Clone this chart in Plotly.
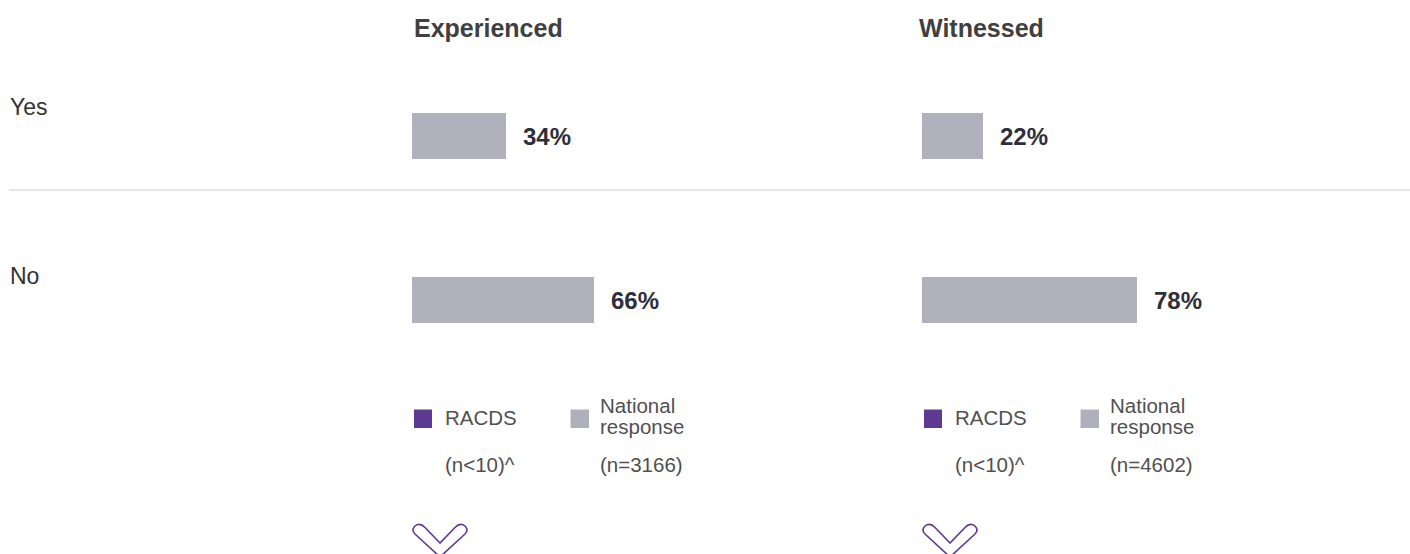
import plotly.graph_objects as go

# Survey answers and national response shares (%)
answers = ["Yes", "No"]
experienced_pct = [34, 66]
witnessed_pct = [22, 78]
panel_titles = ["Experienced", "Witnessed"]
racds_n = ["(n<10)^", "(n<10)^"]
national_n = ["(n=3166)", "(n=4602)"]

W, H = 1410, 554
FONT = "Liberation Sans, Arial, Helvetica, sans-serif"
BAR_COLOR = "#b1b1bd"
PURPLE = "#5c3a92"


def px(x):
    return x / W


def py(y):
    return 1 - y / H


panel_left = [412, 922]
title_left = [412, 917]
scale_px = 276  # pixels per 100 %

fig = go.Figure()
for i, vals in enumerate([experienced_pct, witnessed_pct]):
    xa = "x" if i == 0 else "x2"
    fig.add_trace(go.Bar(
        y=answers, x=vals, orientation="h", xaxis=xa, yaxis="y",
        marker=dict(color=BAR_COLOR, line=dict(width=0)),
        width=0.2805, hoverinfo="skip", showlegend=False,
    ))

annotations = []
shapes = []

# value labels next to each bar
for i, vals in enumerate([experienced_pct, witnessed_pct]):
    xref = "x" if i == 0 else "x2"
    for ans, v in zip(answers, vals):
        annotations.append(dict(
            x=v, y=ans, xref=xref, yref="y", xanchor="left", yanchor="middle",
            xshift=15, text=f"<b>{v}%</b>", showarrow=False,
            font=dict(family=FONT, size=24, color="#2f2f3a"),
        ))

# row labels
for ans, cy in zip(answers, [106.5, 275.5]):
    annotations.append(dict(
        x=px(8), y=py(cy), xref="paper", yref="paper", xanchor="left", yanchor="middle",
        text=ans, showarrow=False, font=dict(family=FONT, size=23, color="#333333"),
    ))

# separator between rows
shapes.append(dict(type="line", xref="paper", yref="paper",
                   x0=px(9), x1=1, y0=py(190), y1=py(190),
                   line=dict(color="#dcdcdc", width=1.3)))

for i, L in enumerate(panel_left):
    # panel title
    annotations.append(dict(
        x=px(title_left[i]), y=py(28), xref="paper", yref="paper", xanchor="left", yanchor="middle",
        text=f"<b>{panel_titles[i]}</b>", showarrow=False,
        font=dict(family=FONT, size=25, color="#404040"),
    ))
    # legend keys
    shapes.append(dict(type="rect", xref="paper", yref="paper",
                       x0=px(L + 2), x1=px(L + 20), y0=py(428), y1=py(409.5),
                       fillcolor=PURPLE, line=dict(width=0)))
    shapes.append(dict(type="rect", xref="paper", yref="paper",
                       x0=px(L + 158.5), x1=px(L + 177), y0=py(428), y1=py(409.5),
                       fillcolor="#b0b0bc", line=dict(width=0)))
    legend_font = dict(family=FONT, size=20.5, color="#505050")
    for txt, lx, cy in [("RACDS", L + 31, 417), (racds_n[i], L + 31, 464.5),
                        ("National", L + 186, 405.5), ("response", L + 186, 426.5),
                        (national_n[i], L + 186, 464.5)]:
        annotations.append(dict(
            x=px(lx), y=py(cy), xref="paper", yref="paper", xanchor="left",
            yanchor="middle", text=txt, showarrow=False, font=legend_font,
        ))
    # chevron outline below each panel
    pts = [
        ("M", L + 28, 543), ("L", L + 13, 527.5),
        ("Q", L + 8, 522, L + 3, 526), ("Q", L - 1, 530, L + 3, 534),
        ("L", L + 28, 557), ("L", L + 53, 534),
        ("Q", L + 57, 530, L + 53, 526), ("Q", L + 48, 522, L + 43, 527.5),
    ]
    path = ""
    for p in pts:
        cmd, coords = p[0], p[1:]
        xy = [f"{px(coords[k]):.6f},{py(coords[k + 1]):.6f}" for k in range(0, len(coords), 2)]
        path += cmd + " " + " ".join(xy) + " "
    path += "Z"
    shapes.append(dict(type="path", xref="paper", yref="paper", path=path,
                       line=dict(color=PURPLE, width=1.6), fillcolor="rgba(0,0,0,0)"))

axis_common = dict(range=[0, 100], visible=False, showgrid=False, zeroline=False, fixedrange=True)
fig.update_layout(
    width=W, height=H,
    margin=dict(l=0, r=0, t=0, b=0),
    paper_bgcolor="white", plot_bgcolor="white",
    xaxis=dict(domain=[px(panel_left[0]), px(panel_left[0] + scale_px)], **axis_common),
    xaxis2=dict(domain=[px(panel_left[1]), px(panel_left[1] + scale_px)], **axis_common),
    yaxis=dict(type="category", categoryorder="array", categoryarray=answers,
               range=[2.5488, -0.8293], visible=False, showgrid=False, fixedrange=True),
    annotations=annotations, shapes=shapes,
    bargap=0, showlegend=False,
)

fig.write_html("out.html", config={"displayModeBar": False})
